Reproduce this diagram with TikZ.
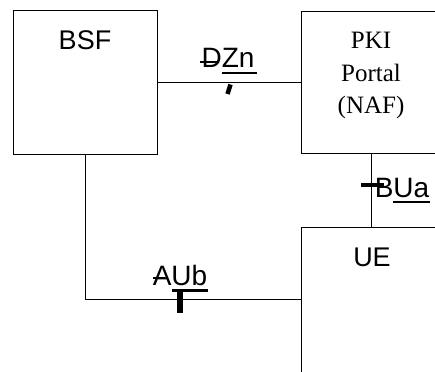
\documentclass[tikz,border=0pt]{standalone}
\usepackage{fontspec}
\setmainfont{Liberation Serif}
\setsansfont{Liberation Sans}
\begin{document}
\begin{tikzpicture}[x=1pt,y=-1pt]
    % Define the styles for the blocks and the labels
    \tikzset{block/.style={rectangle, draw, line width=1pt, inner sep=0pt}}
    \tikzset{line/.style={draw, line width=1pt}}
    \tikzset{title/.style={font=\sffamily\fontsize{27}{32}\selectfont, anchor=base, inner sep=0pt}}
    \tikzset{iface/.style={font=\sffamily\fontsize{28}{32}\selectfont, anchor=base, inner sep=0pt}}
    \tikzset{editbar/.style={draw, line width=4pt}}
    \tikzset{editline/.style={draw, line width=1.2pt}}

    \useasboundingbox (0,0) rectangle (435,371);
    \clip (0,0) rectangle (435,371);

    % Place the blocks
    \node[block, minimum width=144pt, minimum height=144pt] (bsf) at (85,83) {};
    \node[block, minimum width=140pt, minimum height=142pt] (pki) at (371,83) {};
    \node[block, minimum width=140pt, minimum height=145pt] (ue) at (371,299.5) {};

    % Names inside the blocks
    \node[title] (bsfname) at (85,50) {BSF};
    \node[title] (uename) at (372,266) {UE};
    \node[font=\fontsize{25}{32.5}\selectfont, align=center, anchor=north, inner sep=0pt] (pkiname) at (371,32) {PKI\\Portal\\(NAF)};

    % Interface labels
    \node[iface] (dzn) at (228,68) {DZn};
    \node[iface] (bua) at (402,197) {BUa};
    \node[iface] (aub) at (180,285) {AUb};

    % Connect the blocks
    \draw[line] (bsf) -- (pki);
    \draw[line] (pki) -- (ue);
    \draw[line] (bsf) |- (ue);

    % Strike-outs and underlines of the labels
    \draw[editline] (200,62) -- (219,62);
    \draw[editline] (222,73) -- (257,73);
    \draw[editline] (393,202) -- (430,202);
    \draw[editline] (153,278) -- (165,278);

    % Edit marks on the interfaces
    \draw[editbar, line width=4.5pt] (230.5,84.5) -- (227.5,94);
    \draw[editbar] (361,185) -- (384,185);
    \draw[editbar, line width=3pt] (172,290) -- (208,290);
    \draw[editbar, line width=6pt] (180,290) -- (180,313);
\end{tikzpicture}
\end{document}
